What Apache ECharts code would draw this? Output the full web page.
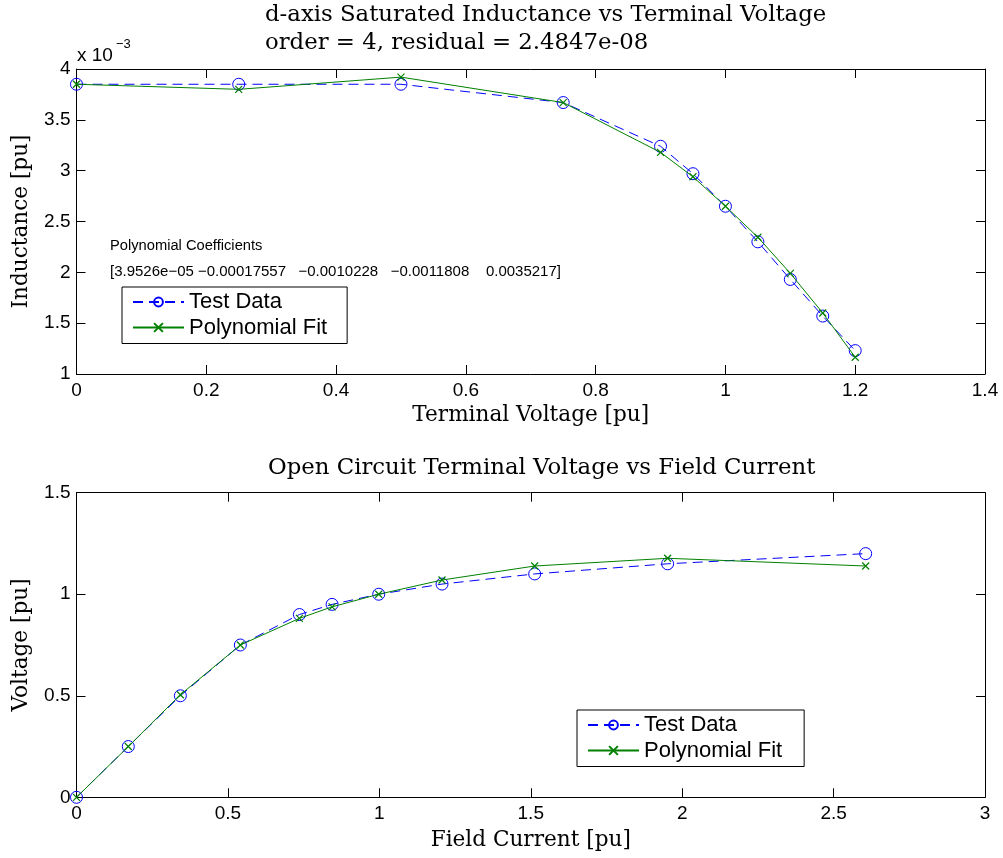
<!DOCTYPE html>
<html>
<head>
<meta charset="utf-8">
<script src="https://cdn.jsdelivr.net/npm/echarts@6/dist/echarts.min.js"></script>
<style>
  html, body { margin: 0; padding: 0; background: #fff; }
  #chart { width: 1003px; height: 858px; }
</style>
</head>
<body>
<div id="chart"></div>
<script>
// ---------- Data (top plot: d-axis saturated inductance) ----------
const termVoltage = [0, 0.25, 0.5, 0.75, 0.9, 0.95, 1.0, 1.05, 1.1, 1.15, 1.2];
const inductanceTest = [3.85e-3, 3.85e-3, 3.85e-3, 3.67e-3, 3.24e-3, 2.97e-3, 2.65e-3, 2.30e-3, 1.93e-3, 1.57e-3, 1.23e-3];
const inductanceFit  = [3.85e-3, 3.80e-3, 3.92e-3, 3.67e-3, 3.18e-3, 2.94e-3, 2.65e-3, 2.345e-3, 1.99e-3, 1.60e-3, 1.165e-3];

// ---------- Data (bottom plot: open circuit characteristic) ----------
const fieldCurrent = [0, 0.171, 0.343, 0.541, 0.736, 0.844, 0.998, 1.207, 1.513, 1.952, 2.606];
const ocVoltageTest = [0, 0.25, 0.5, 0.75, 0.9, 0.95, 1.0, 1.05, 1.1, 1.15, 1.2];
const ocVoltageFit  = [0, 0.25, 0.505, 0.75, 0.881, 0.938, 1.0, 1.07, 1.139, 1.177, 1.139];

// ---------- Tick values ----------
const topXTicks = [0, 0.2, 0.4, 0.6, 0.8, 1.0, 1.2, 1.4];
const topYTicks = [1e-3, 1.5e-3, 2e-3, 2.5e-3, 3e-3, 3.5e-3, 4e-3];
const botXTicks = [0, 0.5, 1, 1.5, 2, 2.5, 3];
const botYTicks = [0, 0.5, 1, 1.5];

// ---------- Text ----------
const topTitle1 = 'd-axis Saturated Inductance vs Terminal Voltage';
const topTitle2 = 'order = 4, residual = 2.4847e-08';
const botTitle = 'Open Circuit Terminal Voltage vs Field Current';
const coeffHeader = 'Polynomial Coefficients';
const coeffText = '[3.9526e\u221205 \u22120.00017557   \u22120.0010228   \u22120.0011808    0.0035217]';
const legendNames = ['Test Data', 'Polynomial Fit'];

const zip = (xs, ys) => xs.map((x, i) => [x, ys[i]]);
const step = (t) => Math.round((t[1] - t[0]) * 1e8) / 1e8;
const fmt = (v) => String(Math.round(v * 1e6) / 1e6);

const SANS = 'Liberation Sans';
const SERIF = 'DejaVu Serif';
const AXIS_NAME_SIZE = 21.6;
const TITLE_SIZE = 22.8;
const BLUE = '#0000ff';
const GREEN = '#008000';
const XPATH = 'path://M0,0L10,10M10,0L0,10';

const grids = [
  { left: 76.5, top: 69, width: 908.5, height: 305 },
  { left: 76.5, top: 492.7, width: 908.5, height: 304.6 }
];

function xAxisPair(gi, ticks, name, gap) {
  const base = {
    gridIndex: gi, type: 'value', min: ticks[0], max: ticks[ticks.length - 1], interval: step(ticks),
    splitLine: { show: false },
    axisLine: { onZero: false, lineStyle: { color: '#000', width: 1 } },
    axisTick: { inside: true, length: 9, lineStyle: { color: '#000' } }
  };
  return [
    Object.assign({}, base, {
      position: 'bottom',
      name: name, nameLocation: 'middle', nameGap: gap,
      nameTextStyle: { fontFamily: SERIF, fontSize: AXIS_NAME_SIZE, color: '#000' },
      axisLabel: { margin: 7, fontFamily: SANS, fontSize: 19, color: '#000', formatter: fmt }
    }),
    Object.assign({}, base, { position: 'top', axisLabel: { show: false } })
  ];
}
function yAxisPair(gi, ticks, name, gap, formatter) {
  const base = {
    gridIndex: gi, type: 'value', min: ticks[0], max: ticks[ticks.length - 1], interval: step(ticks),
    splitLine: { show: false },
    axisLine: { onZero: false, lineStyle: { color: '#000', width: 1 } },
    axisTick: { inside: true, length: 9, lineStyle: { color: '#000' } }
  };
  return [
    Object.assign({}, base, {
      position: 'left',
      name: name, nameLocation: 'middle', nameGap: gap,
      nameTextStyle: { fontFamily: SERIF, fontSize: AXIS_NAME_SIZE, color: '#000' },
      axisLabel: { margin: 6, fontFamily: SANS, fontSize: 19, color: '#000', formatter: formatter }
    }),
    Object.assign({}, base, { position: 'right', axisLabel: { show: false } })
  ];
}

const xAxes = xAxisPair(0, topXTicks, 'Terminal Voltage [pu]', 30)
  .concat(xAxisPair(1, botXTicks, 'Field Current [pu]', 32));
const yAxes = yAxisPair(0, topYTicks, 'Inductance [pu]', 44, (v) => String(Math.round(v * 1e4) / 10))
  .concat(yAxisPair(1, botYTicks, 'Voltage [pu]', 44, fmt));

function testSeries(xi, yi, data) {
  return {
    name: legendNames[0], type: 'line', xAxisIndex: xi, yAxisIndex: yi, data: data,
    symbol: 'circle', symbolSize: 12, showSymbol: true,
    lineStyle: { color: BLUE, width: 1, type: [10, 6] },
    itemStyle: { color: 'rgba(255,255,255,0)', borderColor: BLUE, borderWidth: 1 },
    z: 2
  };
}
function fitSeries(xi, yi, data) {
  return {
    name: legendNames[1], type: 'line', xAxisIndex: xi, yAxisIndex: yi, data: data,
    symbol: XPATH, symbolSize: 7, showSymbol: true,
    lineStyle: { color: GREEN, width: 1, type: 'solid' },
    itemStyle: { color: GREEN, borderColor: GREEN, borderWidth: 1.2 },
    z: 3
  };
}

const legendCommon = {
  orient: 'vertical', selectedMode: false, data: legendNames,
  itemWidth: 51, itemHeight: 11, itemGap: 3.5,
  borderColor: '#000', borderWidth: 1, borderRadius: 0, backgroundColor: '#fff',
  textStyle: { fontFamily: SANS, fontSize: 22, color: '#000', lineHeight: 22 }
};

const titleFont = TITLE_SIZE + 'px "' + SERIF + '"';

const option = {
  animation: false,
  backgroundColor: '#fff',
  grid: grids,
  xAxis: xAxes,
  yAxis: yAxes,
  legend: [
    Object.assign({}, legendCommon, { left: 122, top: 287, padding: [4, 20, 5, 10] }),
    Object.assign({}, legendCommon, { left: 577, top: 710, padding: [4, 22, 5, 10] })
  ],
  series: [
    testSeries(0, 0, zip(termVoltage, inductanceTest)),
    fitSeries(0, 0, zip(termVoltage, inductanceFit)),
    testSeries(2, 2, zip(fieldCurrent, ocVoltageTest)),
    fitSeries(2, 2, zip(fieldCurrent, ocVoltageFit))
  ],
  graphic: [
    { type: 'text', left: 265, top: 4, style: { text: topTitle1, font: titleFont, fill: '#000' } },
    { type: 'text', left: 265, top: 32, style: { text: topTitle2, font: titleFont, fill: '#000' } },
    { type: 'text', left: 268, top: 457, style: { text: botTitle, font: titleFont, fill: '#000' } },
    { type: 'text', left: 77, top: 46, style: { text: 'x 10', font: '19px "Liberation Sans"', fill: '#000' } },
    { type: 'text', left: 116, top: 38, style: { text: '\u22123', font: '13px "Liberation Sans"', fill: '#000' } },
    { type: 'text', left: 110, top: 238, style: { text: coeffHeader, font: '14.7px "Liberation Sans"', fill: '#000' } },
    { type: 'text', left: 110, top: 264, style: { text: coeffText, font: '15px "Liberation Sans"', fill: '#000' } }
  ]
};

const chart = echarts.init(document.getElementById('chart'), null, { renderer: 'canvas' });
chart.setOption(option);
</script>
</body>
</html>
